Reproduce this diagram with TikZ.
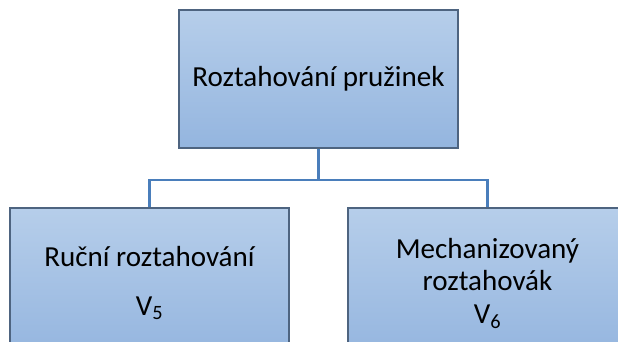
\documentclass[tikz,border=0pt]{standalone}
\usepackage{fontspec}
\setmainfont{Carlito}
\usetikzlibrary{positioning}
\definecolor{boxtop}{HTML}{B6CEEA}
\definecolor{boxbottom}{HTML}{94B5DF}
\definecolor{boxline}{HTML}{4E6480}
\definecolor{linkblue}{HTML}{4A7EBB}
\begin{document}
\begin{tikzpicture}[x=0.03cm, y=-0.03cm]
    % Define styles
    \tikzset{
        box/.style={
            draw=boxline,
            line width=1pt,
            top color=boxtop,
            bottom color=boxbottom,
            minimum width=279*0.03cm,
            minimum height=150*0.03cm,
            inner sep=0pt,
            align=center,
            font=\fontsize{24.8}{28}\selectfont
        },
        link/.style={
            linkblue,
            line width=2.2pt
        }
    }

    % Picture frame
    \clip (0,0) rectangle (618,342);

    % Boxes
    \node[box, minimum height=138*0.03cm] (top) at (318.5,79) {Roztahování pružinek};
    \node[box] (left) at (149.5,283) {Ruční roztahování\\[14pt]V\textsubscript{5}};
    \node[box] (right) at (487.5,283) {Mechanizovaný\\roztahovák\\V\textsubscript{6}};

    % Connectors
    \coordinate (split) at (318.5,180);
    \draw[link] (top.south) -- (split);
    \draw[link] (split) -| (left.north);
    \draw[link] (split) -| (right.north);
\end{tikzpicture}
\end{document}
